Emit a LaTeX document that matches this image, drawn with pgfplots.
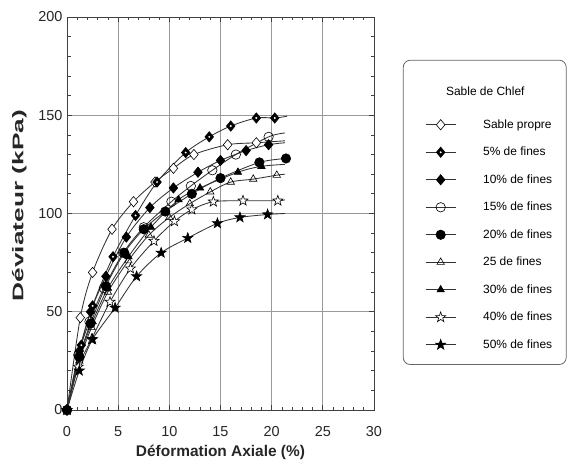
\documentclass[border=0pt]{standalone}
\usepackage{pgfplots}
\pgfplotsset{compat=1.18}
\usepackage{fontspec}
\setmainfont{Liberation Sans}
\usetikzlibrary{plotmarks}

\pgfdeclareplotmark{pstar}{%
  \pgfpathmoveto{\pgfpointpolar{90}{1.25\pgfplotmarksize}}%
  \pgfpathlineto{\pgfpointpolar{126}{0.5\pgfplotmarksize}}%
  \pgfpathlineto{\pgfpointpolar{162}{1.25\pgfplotmarksize}}%
  \pgfpathlineto{\pgfpointpolar{198}{0.5\pgfplotmarksize}}%
  \pgfpathlineto{\pgfpointpolar{234}{1.25\pgfplotmarksize}}%
  \pgfpathlineto{\pgfpointpolar{270}{0.5\pgfplotmarksize}}%
  \pgfpathlineto{\pgfpointpolar{306}{1.25\pgfplotmarksize}}%
  \pgfpathlineto{\pgfpointpolar{342}{0.5\pgfplotmarksize}}%
  \pgfpathlineto{\pgfpointpolar{18}{1.25\pgfplotmarksize}}%
  \pgfpathlineto{\pgfpointpolar{54}{0.5\pgfplotmarksize}}%
  \pgfpathclose
  \pgfusepathqfillstroke}
\pgfdeclareplotmark{dia}{%
  \pgfpathmoveto{\pgfqpoint{0pt}{1.2\pgfplotmarksize}}%
  \pgfpathlineto{\pgfqpoint{1.0\pgfplotmarksize}{0pt}}%
  \pgfpathlineto{\pgfqpoint{0pt}{-1.2\pgfplotmarksize}}%
  \pgfpathlineto{\pgfqpoint{-1.0\pgfplotmarksize}{0pt}}%
  \pgfpathclose
  \pgfusepathqfillstroke}
\pgfdeclareplotmark{ddot}{%
  \pgfsetfillcolor{black}%
  \pgfpathmoveto{\pgfqpoint{0pt}{1.2\pgfplotmarksize}}%
  \pgfpathlineto{\pgfqpoint{1.0\pgfplotmarksize}{0pt}}%
  \pgfpathlineto{\pgfqpoint{0pt}{-1.2\pgfplotmarksize}}%
  \pgfpathlineto{\pgfqpoint{-1.0\pgfplotmarksize}{0pt}}%
  \pgfpathclose
  \pgfusepathqfillstroke
  \pgfsetfillcolor{white}%
  \pgfpathcircle{\pgfpointorigin}{0.25\pgfplotmarksize}%
  \pgfusepathqfill
  \pgfsetfillcolor{black}}

\begin{document}
\begin{tikzpicture}
\useasboundingbox (-67bp,-62bp) rectangle (503bp,410bp);
\begin{axis}[
  scale only axis, width=307bp, height=393bp,
  at={(0,0)}, anchor=south west,
  xmin=0, xmax=30, ymin=0, ymax=200,
  xtick={0,5,...,30}, ytick={0,50,...,200},
  minor x tick num=4, minor y tick num=4,
  tick align=inside, xtick pos=both, ytick pos=both,
  major tick length=5bp, minor tick length=3.5bp,
  grid=major, major grid style={black!40, line width=0.7bp},
  axis line style={black!75, line width=0.9bp},
  every tick/.style={black!75, line width=0.7bp},
  /pgf/number format/assume math mode=true,
  tick label style={font=\fontsize{14.5}{14.5}\selectfont, black!85},
  xticklabel style={yshift=-13bp},
  yticklabel style={xshift=-1bp},
  xlabel={\bfseries Déformation Axiale (\%)},
  ylabel={\scalebox{1.7}[1]{\bfseries Déviateur (kPa)}},
  label style={font=\fontsize{15.5}{15.5}\selectfont, black!85},
  xlabel style={yshift=-2bp},
  ylabel style={at={(ticklabel cs:0.52)}, yshift=5bp},
  every axis plot/.append style={black!80, solid, line width=0.85bp, mark size=4.3bp},
  legend image code/.code={\path (-8bp,0bp); \draw[mark indices={2}] plot coordinates {(0bp,0bp) (15bp,0bp) (30bp,0bp)};},
  legend cell align=left,
  legend style={at={(1.094,0.891)}, anchor=north west, draw=black!60, rounded corners=7bp, line width=0.8bp,
    font=\fontsize{12}{12}\selectfont, inner xsep=14bp, inner ysep=6bp,
    nodes={minimum height=27.5bp, inner ysep=0pt, inner xsep=0pt},
    column sep=27bp},
]
\addlegendimage{draw opacity=0, mark=none}
\addlegendentry{\hspace{-37bp}\raisebox{14bp}{Sable de Chlef}\rule{0pt}{43.3bp}}

\addplot[smooth, mark=dia, mark options={solid, black, fill=white, line width=0.6bp}, mark indices={1,2,3,4,5,6,7,8,9,10}] coordinates {
(0,0) (1.3,47) (2.5,70) (4.4,92) (6.5,106) (8.6,116) (10.4,123) (12.4,130) (15.7,135) (18.5,136) (21.3,137)};
\addlegendentry{Sable propre}

\addplot[smooth, mark=ddot, mark options={solid, black, fill=black, line width=0.6bp}, mark indices={1,2,3,4,5,6,7,8,9,10,11}] coordinates {
(0,0) (1.4,33) (2.5,53) (4.5,78) (6.7,99) (8.8,116) (11.6,131) (13.9,139) (16,144.5) (18.5,148.6) (20.3,148.6) (21.5,149.5)};
\addlegendentry{5\% de fines}

\addplot[smooth, mark=dia, mark options={solid, black, fill=black, line width=0.6bp}, mark indices={1,2,3,4,5,6,7,8,9,10,11}] coordinates {
(0,0) (1.2,30) (2.3,50) (3.8,68) (5.8,88) (8.1,103) (10.4,113) (12.8,121) (15,127) (17.5,132) (19.7,135) (21.3,136)};
\addlegendentry{10\% de fines}

\addplot[smooth, mark=o, mark options={solid, black, fill=white, line width=0.6bp, scale=1.1}, mark indices={1,2,3,4,5,6,7,8,9,10,11}] coordinates {
(0,0) (1.1,28) (2.2,45) (3.6,62) (5.5,80) (7.5,93) (10.2,106) (12.1,114) (14.2,122) (16.5,130) (19.7,139) (21.3,141)};
\addlegendentry{15\% de fines}

\addplot[smooth, mark=*, mark options={solid, black, fill=black, line width=0.6bp, scale=1.1}, mark indices={1,2,3,4,5,6,7,8,9,10,11}] coordinates {
(0,0) (1.2,27) (2.3,44) (3.8,63) (5.6,80) (7.5,92) (9.6,101) (12.2,110) (15,118) (18.8,126) (21.4,128)};
\addlegendentry{20\% de fines}

\addplot[smooth, mark=triangle, mark options={solid, black, fill=white, line width=0.6bp}, mark indices={1,2,3,4,5,6,7,8,9,10,11,12}] coordinates {
(0,0) (1.2,25) (2.4,42) (4,60) (6,76) (8,89) (10,98) (12,105) (14,111) (16,116) (18.2,117.5) (20.5,119.5) (21.3,120)};
\addlegendentry{25 de fines}

\addplot[smooth, mark=triangle*, mark options={solid, black, fill=black, line width=0.6bp}, mark indices={1,2,3,4,5,6,7,8,9,10}] coordinates {
(0,0) (1.3,28) (2.5,45) (4,62) (6,78) (8.2,93) (10.9,107) (13,113) (16.7,121) (19,124) (21.3,125)};
\addlegendentry{30\% de fines}

\addplot[smooth, mark=pstar, mark options={solid, black, fill=white, line width=0.6bp}, mark indices={1,2,3,4,5,6,7,8,9,10,11}] coordinates {
(0,0) (1.1,22) (2.4,36) (4.2,55) (6.2,72) (8.5,86) (10.5,96) (12.2,102) (14.3,106) (17.2,106.5) (20.6,106.5) (21.3,107)};
\addlegendentry{40\% de fines}

\addplot[smooth, mark=pstar, mark options={solid, black, fill=black, line width=0.6bp}, mark indices={1,2,3,4,5,6,7,8,9,10}] coordinates {
(0,0) (1.2,20) (2.5,36) (4.7,52) (6.8,68) (9.2,80) (11.8,87.5) (14.7,95) (16.9,98) (19.6,99.5) (21.3,100)};
\addlegendentry{50\% de fines}
\end{axis}
\end{tikzpicture}
\end{document}
